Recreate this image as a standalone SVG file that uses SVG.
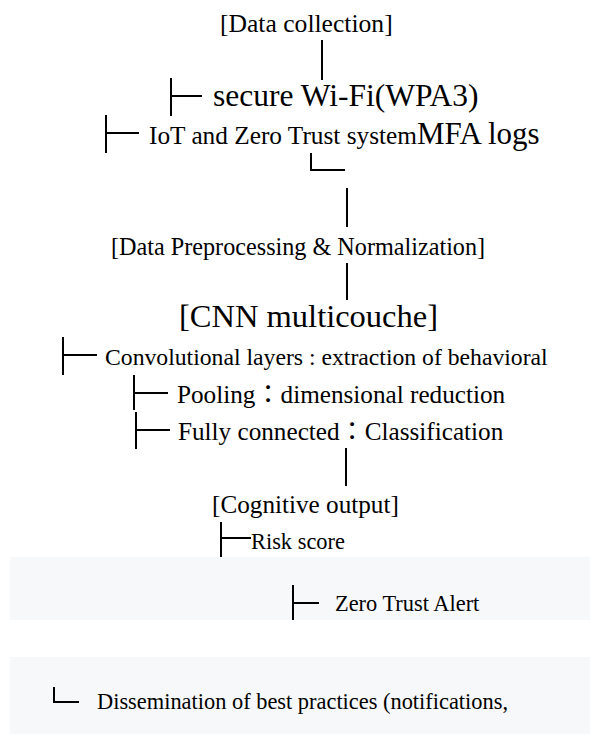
<svg xmlns="http://www.w3.org/2000/svg" width="590" height="734" viewBox="0 0 590 734">
<style>
text{font-family:"Liberation Serif","Times New Roman",serif;fill:#000}
.cjk{font-family:"Noto Sans CJK TC","Noto Sans CJK JP",sans-serif}
.ln{stroke:#000;stroke-width:2;fill:none}
.band{fill:#f7f8fa}
</style>
<rect width="590" height="734" fill="#fff"/>
<rect class="band" x="10" y="557" width="580" height="63"/>
<rect class="band" x="10" y="657" width="580" height="77"/>
<g id="connectors">
<path class="ln" d="M322 40V80"/>
<path class="ln" d="M171 78V116M171 96H202"/>
<path class="ln" d="M106 115V153M106 133H139"/>
<path class="ln" d="M311 153V170H345"/>
<path class="ln" d="M347 188V227"/>
<path class="ln" d="M347 263V300"/>
<path class="ln" d="M63 337V375M63 355H97"/>
<path class="ln" d="M134 375V410M134 393H168"/>
<path class="ln" d="M136 412V449M136 430H170"/>
<path class="ln" d="M346 448V486"/>
<path class="ln" d="M221 522V557M221 538H251"/>
<path class="ln" d="M293 585V620M293 603H319"/>
<path class="ln" d="M54 687V702H79"/>
</g>
<g id="data-collection"><text x="220" y="32" font-size="25.6">[Data collection]</text></g>
<g id="secure-wifi"><text x="213" y="106" font-size="31.5">secure Wi-Fi(WPA3)</text></g>
<g id="iot-mfa"><text x="149" y="144" font-size="25.3">IoT and Zero Trust system<tspan font-size="31">MFA logs</tspan></text></g>
<g id="preprocessing"><text x="111" y="255" font-size="24.2">[Data Preprocessing &amp; Normalization]</text></g>
<g id="cnn"><text x="179" y="327" font-size="32.5">[CNN multicouche]</text></g>
<g id="conv"><text x="105" y="365" font-size="23.7">Convolutional layers : extraction of behavioral</text></g>
<g id="pooling"><text x="177" y="403" font-size="25.2">Pooling<tspan class="cjk">：</tspan>dimensional reduction</text></g>
<g id="fully"><text x="178" y="440" font-size="25.2">Fully connected<tspan class="cjk">：</tspan>Classification</text></g>
<g id="cognitive"><text x="212" y="513" font-size="25.2">[Cognitive output]</text></g>
<g id="risk"><text x="251" y="549" font-size="22.4">Risk score</text></g>
<g id="alert"><text x="335" y="611" font-size="22.4">Zero Trust Alert</text></g>
<g id="dissemination"><text x="97" y="709" font-size="22.4">Dissemination of best practices (notifications,</text></g>
</svg>
